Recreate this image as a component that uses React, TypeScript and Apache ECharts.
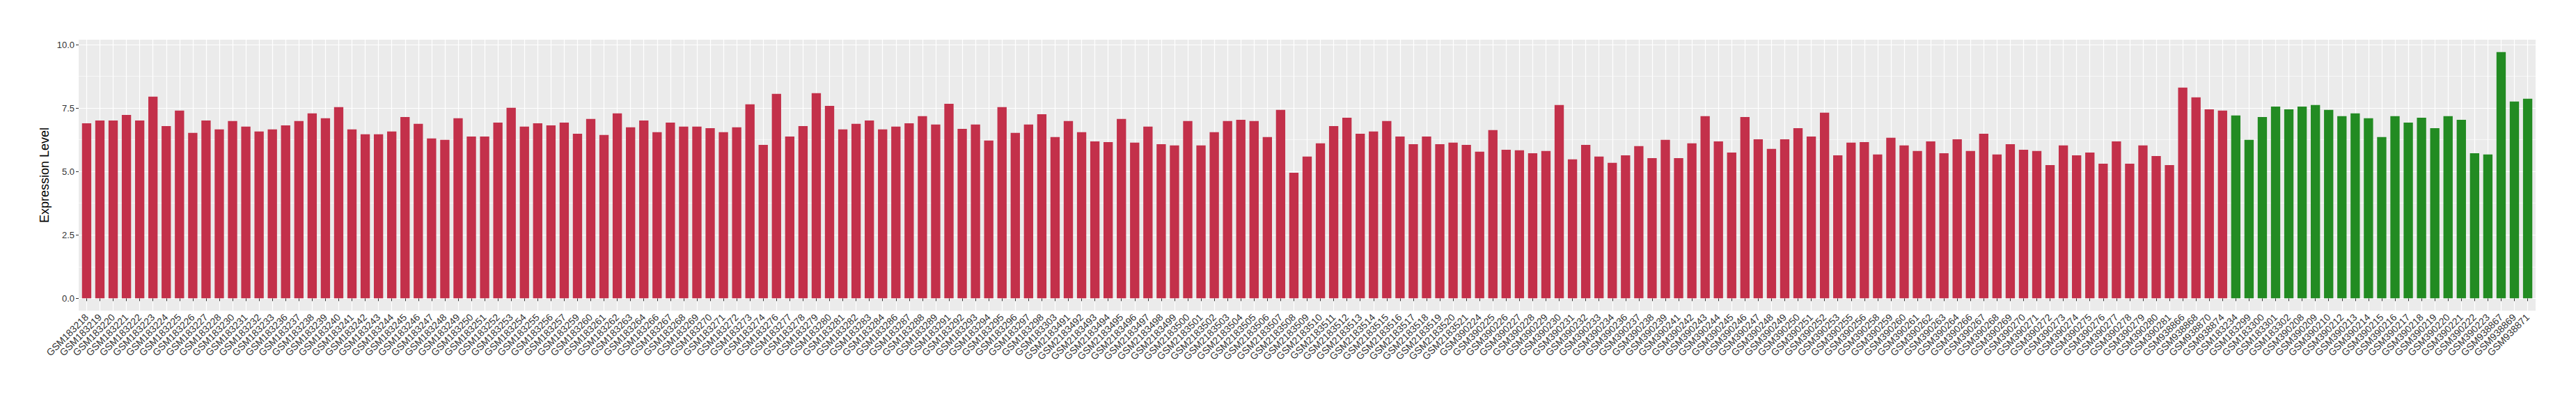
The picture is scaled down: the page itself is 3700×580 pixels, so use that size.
import React, { useEffect, useRef } from "react";
import * as echarts from "echarts";

// ---------- data ----------
const redSamples: string[] = [
  "GSM183218", "GSM183219", "GSM183220", "GSM183221", "GSM183222", "GSM183223", "GSM183224", "GSM183225", "GSM183226", "GSM183227", "GSM183228",
  "GSM183230", "GSM183231", "GSM183232", "GSM183233",
  "GSM183236", "GSM183237", "GSM183238", "GSM183239", "GSM183240", "GSM183241", "GSM183242", "GSM183243", "GSM183244", "GSM183245", "GSM183246",
  "GSM183247", "GSM183248", "GSM183249", "GSM183250", "GSM183251", "GSM183252", "GSM183253", "GSM183254", "GSM183255", "GSM183256", "GSM183257",
  "GSM183259", "GSM183260", "GSM183261", "GSM183262", "GSM183263", "GSM183264",
  "GSM183266", "GSM183267", "GSM183268", "GSM183269", "GSM183270", "GSM183271", "GSM183272", "GSM183273", "GSM183274",
  "GSM183276", "GSM183277", "GSM183278", "GSM183279", "GSM183280", "GSM183281", "GSM183282", "GSM183283", "GSM183284",
  "GSM183286", "GSM183287", "GSM183288", "GSM183289",
  "GSM183291", "GSM183292", "GSM183293", "GSM183294", "GSM183295", "GSM183296", "GSM183297", "GSM183298",
  "GSM183303",
  "GSM2183491", "GSM2183492", "GSM2183493", "GSM2183494", "GSM2183495", "GSM2183496", "GSM2183497", "GSM2183498", "GSM2183499", "GSM2183500",
  "GSM2183501", "GSM2183502", "GSM2183503", "GSM2183504", "GSM2183505", "GSM2183506", "GSM2183507", "GSM2183508", "GSM2183509", "GSM2183510",
  "GSM2183511", "GSM2183512", "GSM2183513", "GSM2183514", "GSM2183515", "GSM2183516", "GSM2183517", "GSM2183518", "GSM2183519", "GSM2183520",
  "GSM2183521",
  "GSM390224", "GSM390225", "GSM390226", "GSM390227", "GSM390228", "GSM390229", "GSM390230", "GSM390231", "GSM390232", "GSM390233", "GSM390234",
  "GSM390236", "GSM390237", "GSM390238", "GSM390239",
  "GSM390241", "GSM390242", "GSM390243", "GSM390244", "GSM390245", "GSM390246", "GSM390247", "GSM390248", "GSM390249", "GSM390250",
  "GSM390251", "GSM390252", "GSM390253",
  "GSM390255", "GSM390256",
  "GSM390258", "GSM390259", "GSM390260", "GSM390261", "GSM390262", "GSM390263", "GSM390264",
  "GSM390266", "GSM390267", "GSM390268", "GSM390269", "GSM390270", "GSM390271", "GSM390272", "GSM390273", "GSM390274", "GSM390275",
  "GSM390276", "GSM390277", "GSM390278", "GSM390279", "GSM390280", "GSM390281",
  "GSM938866", "GSM938868", "GSM938870", "GSM938874",
];

const redValues: number[] = [
  6.90, 7.01, 7.01, 7.23, 7.01, 7.95, 6.79, 7.40, 6.52, 7.01,
  6.66, 6.99, 6.77, 6.58, 6.66, 6.82, 6.99, 7.29, 7.10, 7.54,
  6.66, 6.47, 6.47, 6.58, 7.15, 6.88, 6.30, 6.25, 7.10, 6.38,
  6.38, 6.93, 7.51, 6.77, 6.90, 6.82, 6.93, 6.49, 7.07, 6.44,
  7.29, 6.74, 7.01, 6.55, 6.93, 6.77, 6.77, 6.71, 6.55, 6.74,
  7.65, 6.05, 8.06, 6.38, 6.79, 8.09, 7.59, 6.66, 6.88, 7.01,
  6.66, 6.77,
  6.90, 7.18, 6.85, 7.67, 6.68, 6.85, 6.22, 7.54, 6.52, 6.85,
  7.26, 6.36, 6.99, 6.55, 6.19, 6.16, 7.07, 6.14, 6.77, 6.08,
  6.03, 6.99, 6.03, 6.55, 6.99, 7.04, 6.99, 6.36, 7.43, 4.95,
  5.59, 6.11, 6.79, 7.12, 6.49, 6.58, 6.99, 6.38, 6.08, 6.38,
  6.08, 6.14, 6.05, 5.78, 6.63, 5.86, 5.84, 5.72, 5.81, 7.62,
  5.48, 6.05, 5.59, 5.34, 5.64, 6.00, 5.53, 6.25, 5.53, 6.11,
  7.18,
  6.19, 5.75, 7.15, 6.27, 5.89, 6.27, 6.71, 6.38, 7.32, 5.64,
  6.14, 6.16, 5.67, 6.33, 6.03, 5.81, 6.19, 5.72, 6.27, 5.81,
  6.49, 5.67, 6.08, 5.86, 5.81, 5.25, 6.03, 5.64, 5.75, 5.31,
  6.19, 5.31, 6.03, 5.61, 5.25, 8.31, 7.92, 7.45, 7.40,
];

const greenSamples: string[] = [
  "GSM183234", "GSM183299", "GSM183300", "GSM183301", "GSM183302",
  "GSM390208", "GSM390209", "GSM390210", "GSM390212", "GSM390213", "GSM390214", "GSM390215", "GSM390216",
  "GSM390217", "GSM390218", "GSM390219", "GSM390220", "GSM390221", "GSM390222", "GSM390223",
  "GSM938867", "GSM938869", "GSM938871",
];

const greenValues: number[] = [
  7.21, 6.25, 7.15, 7.56, 7.45, 7.56, 7.62, 7.43, 7.18, 7.29,
  7.10, 6.36, 7.18, 6.93, 7.12, 6.71, 7.18, 7.04, 5.72, 5.67,
  9.71, 7.76, 7.87,
];

const yTickValues: number[] = [0, 2.5, 5, 7.5, 10];

// ---------- style / layout ----------
const RED = "#C3304A";
const GREEN = "#228B22";
const PANEL_BG = "#EBEBEB";
const FONT = "Liberation Sans, Arial, Helvetica, sans-serif";
const TICK_TEXT = "#333333";

const W = 3700;
const H = 580;
const PANEL_LEFT = 113;
const PANEL_TOP = 57;
const PANEL_W = 3529;
const PANEL_H = 389;

export default function App() {
  const ref = useRef<HTMLDivElement | null>(null);

  useEffect(() => {
    document.body.style.margin = "0";
    if (!ref.current) return;
    const chart = echarts.init(ref.current, undefined, { renderer: "svg" });

    const categories = [...redSamples, ...greenSamples];
    const data = [
      ...redValues.map((v) => ({ value: v, itemStyle: { color: RED } })),
      ...greenValues.map((v) => ({ value: v, itemStyle: { color: GREEN } })),
    ];
    const n = categories.length;

    // ggplot-like expansion
    const allVals = [...redValues, ...greenValues];
    const maxV = Math.max(...allVals);
    const yMin = -0.05 * maxV;
    const yMax = maxV * 1.05;
    const pxPerUnit = PANEL_H / (yMax - yMin);
    const yZero = PANEL_TOP + PANEL_H - (0 - yMin) * pxPerUnit;
    const yTop = yZero - yTickValues[yTickValues.length - 1] * pxPerUnit;

    // discrete expansion of 0.6 units each side
    const unit = PANEL_W / (n - 1 + 1.2);
    const dataLeft = PANEL_LEFT + 0.1 * unit;
    const dataWidth = n * unit;

    const option: any = {
      animation: false,
      backgroundColor: "#FFFFFF",
      grid: [
        {
          left: dataLeft,
          top: PANEL_TOP,
          width: dataWidth,
          height: PANEL_H,
          containLabel: false,
        },
        {
          left: PANEL_LEFT,
          top: yTop,
          width: PANEL_W,
          height: yZero - yTop,
          containLabel: false,
        },
        {
          left: PANEL_LEFT,
          top: PANEL_TOP,
          width: PANEL_W,
          height: PANEL_H,
          show: true,
          backgroundColor: PANEL_BG,
          borderWidth: 0,
          containLabel: false,
        },
      ],
      xAxis: [
        {
          type: "category",
          gridIndex: 0,
          data: categories,
          boundaryGap: true,
          axisLine: { show: false },
          axisTick: {
            show: true,
            alignWithLabel: true,
            interval: 0,
            length: 4,
            lineStyle: { color: "#333333", width: 1 },
          },
          axisLabel: {
            interval: 0,
            rotate: 45,
            fontSize: 14,
            color: TICK_TEXT,
            fontFamily: FONT,
            margin: 7,
          },
          splitLine: {
            show: true,
            alignWithLabel: true,
            interval: 0,
            lineStyle: { color: "#FFFFFF", width: 1.2 },
          },
        },
        { type: "value", gridIndex: 1, show: false },
        { type: "value", gridIndex: 2, show: false },
      ],
      yAxis: [
        {
          type: "value",
          gridIndex: 0,
          min: yMin,
          max: yMax,
          show: false,
        },
        {
          type: "value",
          gridIndex: 1,
          min: yTickValues[0],
          max: yTickValues[yTickValues.length - 1],
          interval: yTickValues[1] - yTickValues[0],
          axisLine: { show: false },
          axisTick: { show: true, length: 4, lineStyle: { color: "#333333", width: 1 } },
          axisLabel: {
            fontSize: 13,
            color: TICK_TEXT,
            fontFamily: FONT,
            margin: 6,
            formatter: (v: number) => v.toFixed(1),
          },
          splitLine: { show: true, lineStyle: { color: "#FFFFFF", width: 1.2 } },
          minorTick: { show: false, splitNumber: 2 },
          minorSplitLine: { show: true, lineStyle: { color: "#FFFFFF", width: 0.6 } },
        },
        {
          type: "value",
          gridIndex: 2,
          min: 0,
          max: 1,
          axisLine: { show: false },
          axisTick: { show: false },
          axisLabel: { show: false },
          splitLine: { show: false },
          name: "Expression Level",
          nameLocation: "middle",
          nameGap: 40,
          nameRotate: 90,
          nameTextStyle: { fontSize: 18, color: "#000000", fontFamily: FONT },
        },
      ],
      series: [
        {
          type: "bar",
          xAxisIndex: 0,
          yAxisIndex: 0,
          data,
          barWidth: "70%",
          z: 5,
        },
      ],
    };

    chart.setOption(option);
    return () => {
      chart.dispose();
    };
  }, []);

  return <div ref={ref} style={{ width: W, height: H }} />;
}
